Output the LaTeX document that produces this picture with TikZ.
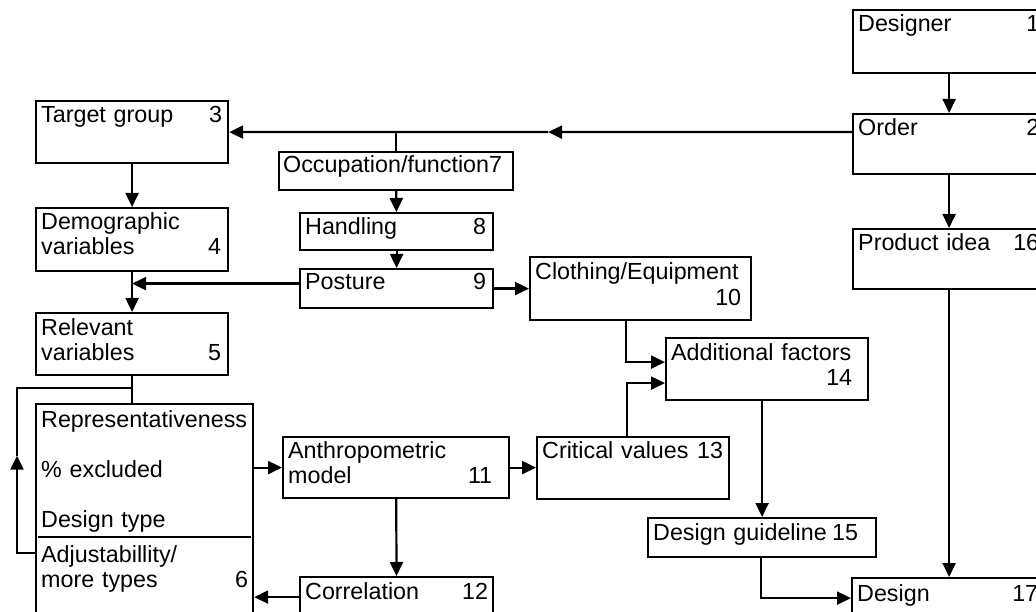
\documentclass[tikz,border=0pt]{standalone}
\usepackage{fontspec}
\setmainfont{Liberation Sans}
\usetikzlibrary{arrows.meta, positioning, calc}
\hyphenpenalty=10000
\exhyphenpenalty=10000

\tikzset{
  box/.style={draw, line width=2.2pt, anchor=north west, inner sep=0pt},
  txt/.style={anchor=base west, inner sep=0pt, align=left, text width=181pt,
    font=\fontsize{23.3}{25}\selectfont},
  con/.style={line width=2.2pt},
  arr/.style={con, -{Triangle[length=14pt, width=13pt]}}
}

\begin{document}
\begin{tikzpicture}[x=1pt, y=-1pt]
  \useasboundingbox (0,0) rectangle (1036,612);
  \clip (0,0) rectangle (1036,612);

  % right column
  \node[box, minimum width=192pt, minimum height=63pt] (designer) at (852,9) {};
  \node[box, minimum width=192pt, minimum height=60pt] (order) at (852,113) {};
  \node[box, minimum width=192pt, minimum height=60pt] (idea) at (852,228) {};
  \node[box, minimum width=194pt, minimum height=40pt] (design) at (851,577) {};
  \node[txt] (designer-t) at ($(designer.north west)+(6,23)$) {Designer\hfill 1};
  \node[txt] (order-t) at ($(order.north west)+(6,23)$) {Order\hfill 2};
  \node[txt] (idea-t) at ($(idea.north west)+(6,23)$) {Product idea\hfill 16};
  \node[txt] (design-t) at ($(design.north west)+(6,24)$) {Design\hfill 17};

  % left column
  \node[box, minimum width=192pt, minimum height=62pt] (target) at (35,100) {};
  \node[box, minimum width=192pt, minimum height=63pt] (demo) at (35,207) {};
  \node[box, minimum width=192pt, minimum height=62pt] (relev) at (35,312) {};
  \node[box, minimum width=217pt, minimum height=220pt] (repr) at (35,403) {};
  \node[txt] (target-t) at ($(target.north west)+(6,23)$) {Target group\hfill 3};
  \node[txt, text width=180pt] (demo-t) at ($(demo.north west)+(6,23)$) {Demographic\\variables\hfill 4};
  \node[txt, text width=180pt] (relev-t) at ($(relev.north west)+(6,23)$) {Relevant\\variables\hfill 5};
  \node[txt, text width=207pt] (repr-t) at ($(repr.north west)+(6,24)$)
    {Representativeness\\[25pt]\% excluded\\[25pt]Design type\\[10pt]Adjustabillity/\\more types\hfill 6};
  \draw[con] ($(repr.north west)+(3,134)$) -- ($(repr.north east)+(-3,134)$);

  % middle
  \node[box, minimum width=234pt, minimum height=38pt] (occup) at (278,151) {};
  \node[box, minimum width=193pt, minimum height=37pt] (handl) at (299,212) {};
  \node[box, minimum width=193pt, minimum height=39pt] (post) at (299,268) {};
  \node[box, minimum width=221pt, minimum height=63pt] (cloth) at (529,256) {};
  \node[box, minimum width=202pt, minimum height=62pt] (addf) at (665,337) {};
  \node[box, minimum width=226pt, minimum height=61pt] (anthro) at (282,436) {};
  \node[box, minimum width=192pt, minimum height=62pt] (crit) at (536,436) {};
  \node[box, minimum width=228pt, minimum height=39pt] (guide) at (647,517) {};
  \node[box, minimum width=193pt, minimum height=40pt] (corr) at (299,576) {};
  \node[txt, text width=224pt] (occup-t) at ($(occup.north west)+(5,22)$) {Occupation/function7};
  \node[txt] (handl-t) at ($(handl.north west)+(6,23)$) {Handling\hfill 8};
  \node[txt] (post-t) at ($(post.north west)+(6,22)$) {Posture\hfill 9};
  \node[txt, text width=206pt] (cloth-t) at ($(cloth.north west)+(6,24)$)
    {Clothing/Equipment\\\mbox{}\hfill 10\hspace*{26pt}};
  \node[txt] (addf-t) at ($(addf.north west)+(6,23)$) {Additional factors\\\mbox{}\hfill 14};
  \node[txt, text width=204pt] (anthro-t) at ($(anthro.north west)+(6,22)$) {Anthropometric\\model\hfill 11};
  \node[txt] (crit-t) at ($(crit.north west)+(6,22)$) {Critical values\hfill 13};
  \node[txt, text width=205pt] (guide-t) at ($(guide.north west)+(6,23)$) {Design guideline\hfill 15};
  \node[txt, text width=183pt] (corr-t) at ($(corr.north west)+(6,23)$) {Correlation\hfill 12};

  % connectors
  \draw[arr] (designer) -- (order);
  \draw[arr] (order) -- (idea);
  \draw[arr] (idea) -- (design);
  \draw[arr] (order.west |- target.east) -- ($(target.east)!0.512!(order.west |- target.east)$);
  \draw[arr] ($(target.east)!0.512!(order.west |- target.east)$) -- (target.east);
  \draw[con] (occup.north |- target.east) -- (occup.north);
  \draw[arr] (occup) -- (handl);
  \draw[arr] (handl) -- (post);
  \draw[arr] (post.east) -- (post.east -| cloth.west);
  \draw[arr] ([yshift=5pt]post.west) -- ([yshift=5pt]post.west -| demo.south);
  \draw[arr] (target) -- (demo);
  \draw[arr] (demo) -- (relev);
  \draw[con] (relev.south) -- (relev.south |- repr.north);
  \coordinate (loopbot) at (17,553);
  \coordinate (looptop) at (17,388);
  \draw[arr] (loopbot -| repr.west) -- (loopbot) -- ($(loopbot)!0.59!(looptop)$);
  \draw[con] ($(loopbot)!0.59!(looptop)$) -- (looptop) -- (looptop -| relev.south);
  \draw[arr] (repr.east |- anthro.west) -- (anthro.west);
  \draw[arr] (anthro.east) -- (anthro.east -| crit.west);
  \draw[arr] (anthro) -- (corr);
  \draw[arr] (corr.west) -- (corr.west -| repr.east);
  \draw[arr] ([xshift=-15pt]cloth.south) |- ([yshift=7pt]addf.west);
  \draw[arr] ([xshift=-6pt]crit.north) |- ([yshift=-14pt]addf.west);
  \draw[arr] (addf.south -| guide.north) -- (guide.north);
  \draw[arr] ([xshift=-1pt]guide.south) |- (design.west);
\end{tikzpicture}
\end{document}
